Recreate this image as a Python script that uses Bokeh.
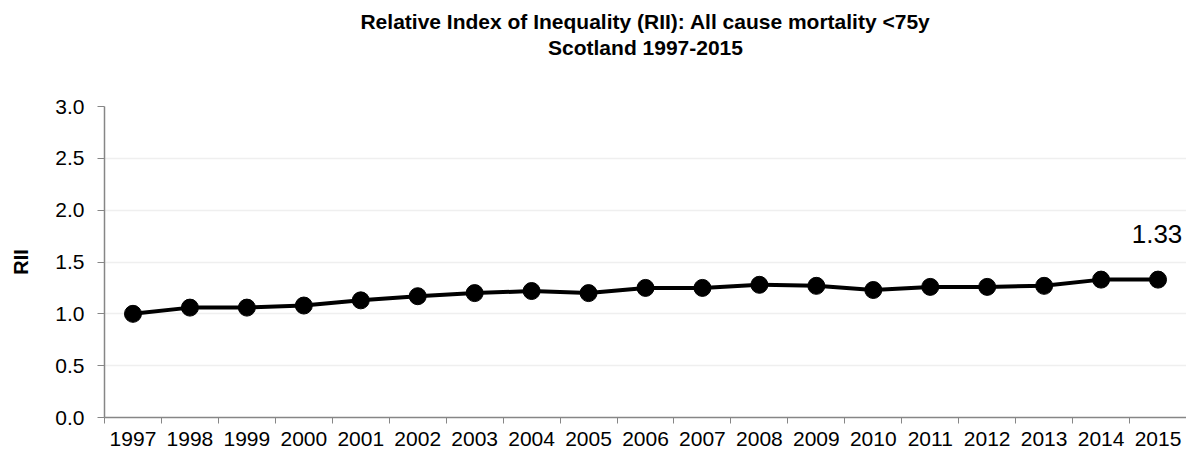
from bokeh.plotting import figure
from bokeh.models import Range1d, FixedTicker, Title, Label, NumeralTickFormatter, LinearAxis
from bokeh.embed import file_html
from bokeh.resources import INLINE

years = list(range(1997, 2016))
rii = [1.00, 1.06, 1.06, 1.08, 1.13, 1.17, 1.20, 1.22, 1.20, 1.25, 1.25, 1.28,
       1.27, 1.23, 1.26, 1.26, 1.27, 1.33, 1.33]
y_ticks = [0.0, 0.5, 1.0, 1.5, 2.0, 2.5, 3.0]
title_lines = ["Relative Index of Inequality (RII): All cause mortality <75y",
               "Scotland 1997-2015"]
y_label = "RII"
last_label = "1.33"

FONT = "Liberation Sans"

p = figure(width=1186, height=448, output_backend="svg", toolbar_location=None,
           x_range=Range1d(years[0] - 0.5, years[-1] + 0.5),
           y_range=Range1d(y_ticks[0], y_ticks[-1]),
           min_border_left=104, min_border_right=0, min_border_bottom=30,
           min_border_top=106)
p.title = None
p.outline_line_color = None
p.background_fill_color = "white"
p.border_fill_color = "white"

xa = p.below[0]
ya = p.left[0]

# second title line carried by a bare axis above the plot (no ticks, no line)
top_axis = LinearAxis(ticker=FixedTicker(ticks=[]), axis_line_color=None,
                      major_tick_line_color=None, minor_tick_line_color=None,
                      major_tick_out=0, major_tick_in=0, minor_tick_out=0,
                      minor_tick_in=0, major_label_standoff=0,
                      axis_label=title_lines[1], axis_label_standoff=48,
                      axis_label_text_font=FONT, axis_label_text_font_size="21px",
                      axis_label_text_font_style="bold", axis_label_text_color="black")
p.add_layout(top_axis, "above")

t1 = Title(text=title_lines[0], align="center", text_font=FONT,
           text_font_size="21px", text_font_style="bold", text_color="black",
           text_line_height=1.0, standoff=0)
p.add_layout(t1, "above")

# x axis: labels at years, tick marks between categories
xa.ticker = FixedTicker(ticks=years, minor_ticks=[y - 0.5 for y in years] + [years[-1] + 0.5])
xa.formatter = NumeralTickFormatter(format="0")
xa.major_tick_out = 0
xa.major_tick_in = 0
xa.minor_tick_out = 6
xa.minor_tick_in = 0
xa.minor_tick_line_color = "#868686"
xa.axis_line_color = "#868686"
xa.axis_line_width = 1.5
xa.major_label_text_font = FONT
xa.major_label_text_font_size = "21px"
xa.major_label_text_color = "black"
xa.major_label_standoff = 8

ya.ticker = FixedTicker(ticks=y_ticks)
ya.formatter = NumeralTickFormatter(format="0.0")
ya.minor_tick_line_color = None
ya.major_tick_out = 7
ya.major_tick_in = 0
ya.major_tick_line_color = "#868686"
ya.axis_line_color = "#868686"
ya.axis_line_width = 1.5
ya.major_label_text_font = FONT
ya.major_label_text_font_size = "21px"
ya.major_label_text_color = "black"
ya.major_label_standoff = 13
ya.axis_label = y_label
ya.axis_label_text_font = FONT
ya.axis_label_text_font_size = "20px"
ya.axis_label_text_font_style = "bold"
ya.axis_label_text_color = "black"
ya.axis_label_standoff = 20

p.xgrid.grid_line_color = None
p.ygrid.grid_line_color = "#efefef"
p.ygrid.grid_line_width = 1.5

p.line(years, rii, line_color="black", line_width=4)
p.scatter(years, rii, size=17, fill_color="black", line_color="black")

lbl = Label(x=years[-1], y=rii[-1], text=last_label, text_align="center",
            text_baseline="alphabetic", y_offset=46, x_offset=-1,
            text_font=FONT, text_font_size="26px", text_color="black")
p.add_layout(lbl)

open("out.html", "w").write(file_html(p, INLINE))
